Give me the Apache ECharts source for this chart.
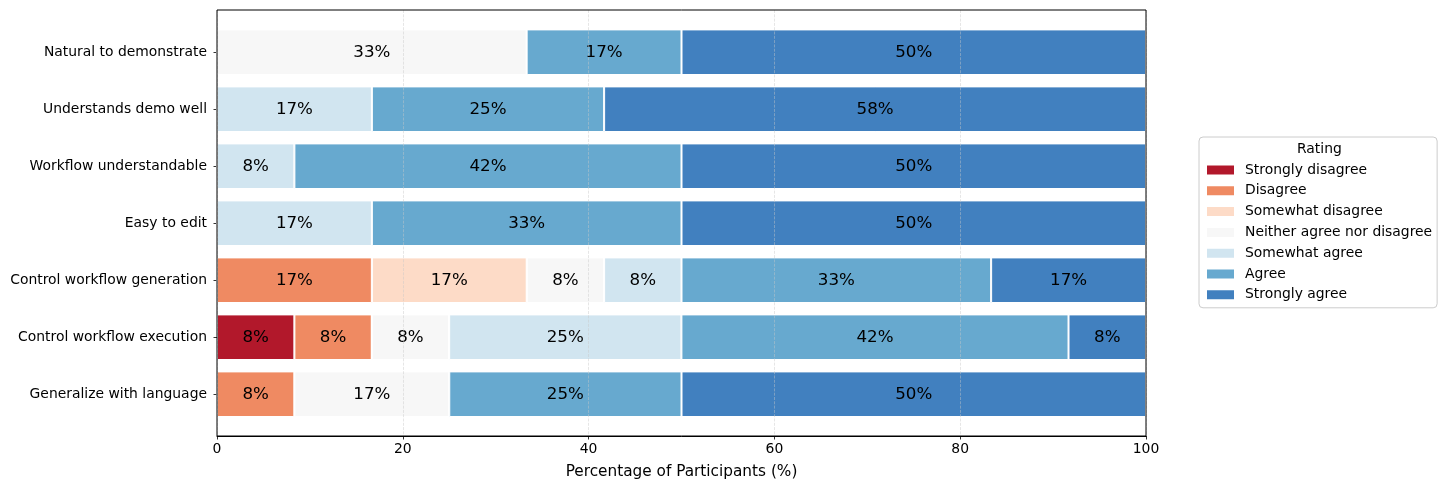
<!DOCTYPE html>
<html>
<head>
<meta charset="utf-8">
<script src="https://cdn.jsdelivr.net/npm/echarts@6/dist/echarts.min.js"></script>
<style>
html,body{margin:0;padding:0;background:#fff;}
#chart{width:1446px;height:490px;}
</style>
</head>
<body>
<div id="chart"></div>
<script>
const categories = [
  "Natural to demonstrate",
  "Understands demo well",
  "Workflow understandable",
  "Easy to edit",
  "Control workflow generation",
  "Control workflow execution",
  "Generalize with language"
];
const ratingNames = [
  "Strongly disagree",
  "Disagree",
  "Somewhat disagree",
  "Neither agree nor disagree",
  "Somewhat agree",
  "Agree",
  "Strongly agree"
];
const stronglyDisagree = [0, 0, 0, 0, 0, 8.33, 0];
const disagree         = [0, 0, 0, 0, 16.67, 8.33, 8.33];
const somewhatDisagree = [0, 0, 0, 0, 16.67, 0, 0];
const neither          = [33.33, 0, 0, 0, 8.33, 8.33, 16.67];
const somewhatAgree    = [0, 16.67, 8.33, 16.67, 8.33, 25, 0];
const agree            = [16.67, 25, 41.67, 33.33, 33.33, 41.67, 25];
const stronglyAgree    = [50, 58.33, 50, 50, 16.67, 8.34, 50];
const xTicks = [0, 20, 40, 60, 80, 100];

const colors = ["#b2182b", "#ef8a62", "#fddbc7", "#f7f7f7", "#d1e5f0", "#67a9cf", "#4180bf"];
const seriesData = [stronglyDisagree, disagree, somewhatDisagree, neither, somewhatAgree, agree, stronglyAgree];
const FONT = "DejaVu Sans";

const chart = echarts.init(document.getElementById('chart'), null, {renderer: 'canvas'});
chart.setOption({
  animation: false,
  backgroundColor: '#ffffff',
  textStyle: {fontFamily: FONT},
  grid: [
    {left: 217, right: 300, top: 10, bottom: 54, show: true, z: 10, borderColor: '#000', borderWidth: 1, backgroundColor: 'transparent'},
    {left: 217, right: 300, top: 23.7, bottom: 67.3}
  ],
  xAxis: [{
    gridIndex: 0,
    type: 'value', min: xTicks[0], max: xTicks[xTicks.length - 1], interval: 20,
    z: 5,
    name: 'Percentage of Participants (%)', nameLocation: 'middle', nameGap: 29,
    nameTextStyle: {fontFamily: FONT, fontSize: 15.3, color: '#000'},
    axisLine: {show: true, lineStyle: {color: '#000', width: 1}},
    axisTick: {show: true, length: 3.5, lineStyle: {color: '#000', width: 0.8}},
    axisLabel: {margin: 6, fontFamily: FONT, fontSize: 13.9, color: '#000'},
    splitLine: {show: true, lineStyle: {color: 'rgba(200,200,200,0.5)', width: 0.9, type: [3, 1.3]}}
  }, {
    gridIndex: 1,
    type: 'value', min: xTicks[0], max: xTicks[xTicks.length - 1], show: false,
    splitLine: {show: false}
  }],
  yAxis: [{
    gridIndex: 0, type: 'value', min: 0, max: 1, show: false, splitLine: {show: false}
  }, {
    gridIndex: 1,
    type: 'category', data: categories, inverse: true,
    axisLine: {show: false},
    axisTick: {show: true, length: 3.5, alignWithLabel: true, lineStyle: {color: '#000', width: 0.8}},
    axisLabel: {margin: 10, fontFamily: FONT, fontSize: 13.9, color: '#000'},
    splitLine: {show: false}
  }],
  legend: {
    orient: 'vertical', left: 1199, top: 137,
    padding: [26, 5, 6, 6],
    borderColor: '#cccccc', borderWidth: 1, borderRadius: 4,
    backgroundColor: 'rgba(255,255,255,0.8)',
    itemWidth: 29, itemHeight: 11, itemGap: 6.8,
    icon: 'rect',
    textStyle: {fontFamily: FONT, fontSize: 13.9, color: '#000', padding: [0, 0, 0, 5]},
    data: ratingNames
  },
  graphic: [{
    type: 'text', left: 1297, top: 142, z: 100,
    style: {text: 'Rating', fontFamily: FONT, fontSize: 13.9, fill: '#000'}
  }],
  series: ratingNames.map((name, i) => ({
    name: name,
    type: 'bar',
    stack: 'total',
    xAxisIndex: 1, yAxisIndex: 1,
    barCategoryGap: '20%',
    data: seriesData[i],
    itemStyle: {color: colors[i], borderColor: '#ffffff', borderWidth: 1},
    label: {
      show: true, position: 'inside', color: '#000',
      fontFamily: FONT, fontSize: 16.7,
      formatter: p => p.value > 0 ? Math.round(p.value) + '%' : ''
    }
  }))
});
</script>
</body>
</html>
